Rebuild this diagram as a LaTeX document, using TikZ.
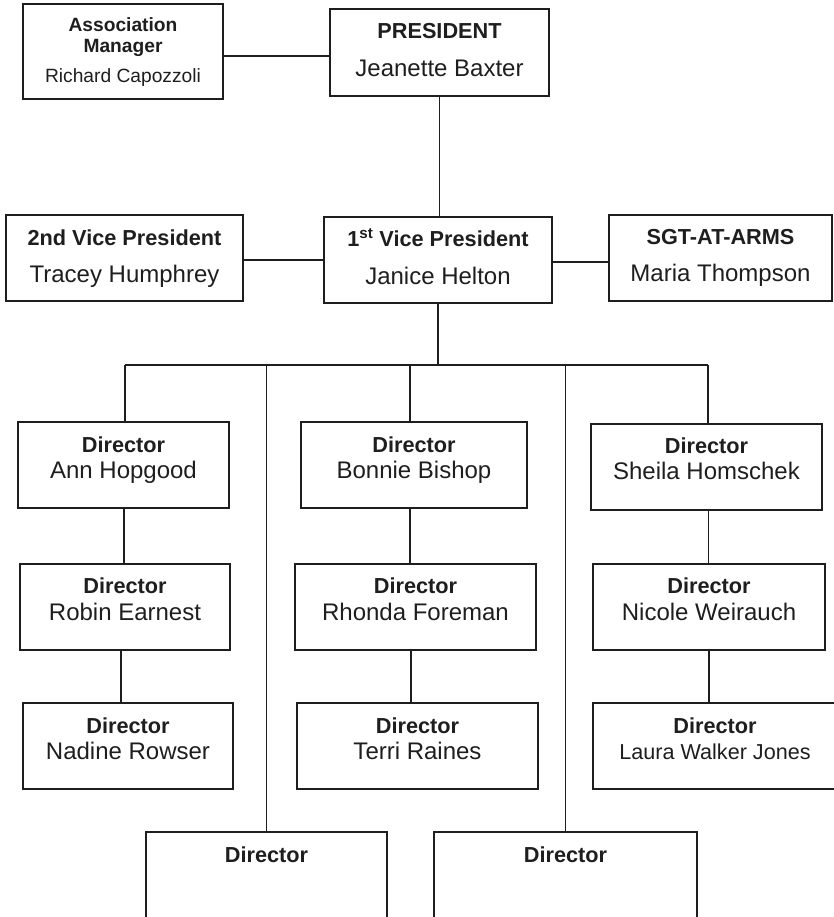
\documentclass[tikz,border=0pt]{standalone}
\usepackage{fontspec}
\setmainfont{Liberation Sans}
\definecolor{ink}{HTML}{1E1E1E}
\newcommand\orgbox[5]{\node[box, minimum width={#4-#2}, minimum height={#5-#3}] (#1) at ({(#2+#4)/2},{(#3+#5)/2}) {};}
\begin{document}
\begin{tikzpicture}[x=1pt,y=-1pt,
  box/.style={draw=ink, line width=1.6pt, inner sep=0pt, outer sep=0pt, rectangle},
  ttl/.style={anchor=base, inner sep=0pt, text=ink, font=\fontsize{21.7}{26}\selectfont\bfseries},
  nm/.style={anchor=base, inner sep=0pt, text=ink, font=\fontsize{24}{28}\selectfont},
  small/.style={anchor=base, inner sep=0pt, text=ink, font=\fontsize{19.2}{23}\selectfont},
  conn/.style={draw=ink, line width=1.6pt}]
\useasboundingbox (0,0) rectangle (833,917);
% boxes
\orgbox{am}{23}{4}{223}{99}
\orgbox{pres}{330}{9}{549}{96}
\orgbox{vptwo}{6}{215}{243}{301}
\orgbox{vpone}{324}{217}{552}{303}
\orgbox{sgt}{609}{215}{832}{301}
\orgbox{ann}{18}{422}{229}{508}
\orgbox{bonnie}{301}{422}{527}{508}
\orgbox{sheila}{591}{424}{822}{510}
\orgbox{robin}{20}{564}{230}{650}
\orgbox{rhonda}{295}{564}{536}{650}
\orgbox{nicole}{593}{564}{825}{650}
\orgbox{nadine}{23}{703}{233}{789}
\orgbox{terri}{297}{703}{538}{789}
\orgbox{laura}{593}{703}{837}{789}
\orgbox{bone}{146}{832}{387}{960}
\orgbox{btwo}{434}{832}{697}{960}
% texts
\node[small,font=\fontsize{19.2}{23}\selectfont\bfseries] (amA) at (am.north |- 0,32) {Association};
\node[small,font=\fontsize{19.2}{23}\selectfont\bfseries] (amB) at (am.north |- 0,53) {Manager};
\node[small] (amC) at (am.north |- 0,83) {Richard Capozzoli};
\node[ttl] (presA) at (pres.north |- 0,39) {PRESIDENT};
\node[nm] (presB) at (pres.north |- 0,77) {Jeanette Baxter};
\node[ttl] (vptwoA) at (vptwo.north |- 0,245) {2nd Vice President};
\node[nm] (vptwoB) at (vptwo.north |- 0,282) {Tracey Humphrey};
\node[ttl] (vponeA) at (vpone.north |- 0,246) {1\textsuperscript{st} Vice President};
\node[nm] (vponeB) at (vpone.north |- 0,284) {Janice Helton};
\node[ttl] (sgtA) at (sgt.north |- 0,244) {SGT-AT-ARMS};
\node[nm] (sgtB) at (sgt.north |- 0,281) {Maria Thompson};
\node[ttl] (annA) at (ann.north |- 0,452) {Director};
\node[nm] (annB) at (ann.north |- 0,478) {Ann Hopgood};
\node[ttl] (bonnieA) at (bonnie.north |- 0,452) {Director};
\node[nm] (bonnieB) at (bonnie.north |- 0,478) {Bonnie Bishop};
\node[ttl] (sheilaA) at (sheila.north |- 0,453) {Director};
\node[nm] (sheilaB) at (sheila.north |- 0,479) {Sheila Homschek};
\node[ttl] (robinA) at (robin.north |- 0,593) {Director};
\node[nm] (robinB) at (robin.north |- 0,620) {Robin Earnest};
\node[ttl] (rhondaA) at (rhonda.north |- 0,593) {Director};
\node[nm] (rhondaB) at (rhonda.north |- 0,620) {Rhonda Foreman};
\node[ttl] (nicoleA) at (nicole.north |- 0,593) {Director};
\node[nm] (nicoleB) at (nicole.north |- 0,620) {Nicole Weirauch};
\node[ttl] (nadineA) at (nadine.north |- 0,733) {Director};
\node[nm] (nadineB) at (nadine.north |- 0,759) {Nadine Rowser};
\node[ttl] (terriA) at (terri.north |- 0,733) {Director};
\node[nm] (terriB) at (terri.north |- 0,759) {Terri Raines};
\node[ttl] (lauraA) at (laura.north |- 0,733) {Director};
\node[nm,font=\fontsize{21.6}{26}\selectfont] (lauraB) at (laura.north |- 0,759) {Laura Walker Jones};
\node[ttl] (boneA) at (bone.north |- 0,862) {Director};
\node[ttl] (btwoA) at (btwo.north |- 0,862) {Director};
% connectors
\draw[conn] (am.east |- 0,56) -- (pres.west |- 0,56);
\draw[conn] (pres.south) -- (pres.south |- vpone.north);
\draw[conn] (vptwo.east |- 0,260) -- (vpone.west |- 0,260);
\draw[conn] (vpone.east |- 0,262) -- (sgt.west |- 0,262);
\coordinate (bus) at (439,365);
\draw[conn] (vpone.south) -- (vpone.south |- bus);
\draw[conn] ([xshift=1.5pt]ann.north |- bus) -- ([xshift=1.5pt]sheila.north |- bus);
\draw[conn] ([xshift=1.5pt]ann.north) -- ([xshift=1.5pt]ann.north |- bus);
\draw[conn] ([xshift=-4pt]bonnie.north) -- ([xshift=-4pt]bonnie.north |- bus);
\draw[conn] ([xshift=1.5pt]sheila.north) -- ([xshift=1.5pt]sheila.north |- bus);
\draw[conn] (bone.north) -- (bone.north |- bus);
\draw[conn] (btwo.north) -- (btwo.north |- bus);
\draw[conn] ([xshift=0.5pt]ann.south) -- ([xshift=0.5pt]ann.south |- robin.north);
\draw[conn] ([xshift=-4pt]robin.south) -- ([xshift=-4pt]robin.south |- nadine.north);
\draw[conn] ([xshift=-4pt]bonnie.north |- bonnie.south) -- ([xshift=-4pt]bonnie.north |- rhonda.north);
\draw[conn] ([xshift=-4.5pt]rhonda.south) -- ([xshift=-4.5pt]rhonda.south |- terri.north);
\draw[conn] ([xshift=2pt]sheila.south) -- ([xshift=2pt]sheila.south |- nicole.north);
\draw[conn] (nicole.south) -- (nicole.south |- laura.north);
\end{tikzpicture}
\end{document}
